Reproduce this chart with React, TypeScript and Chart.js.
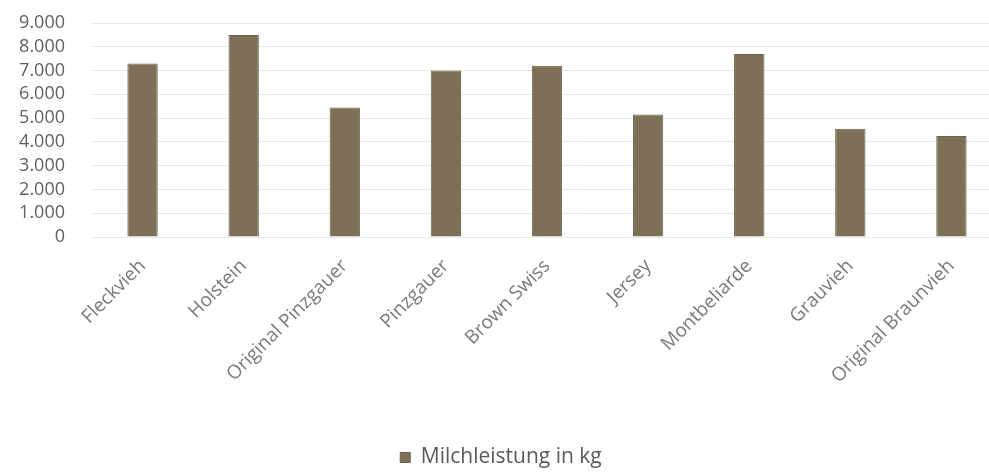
import React, { useEffect, useRef } from "react";
import { Chart, registerables } from "chart.js";

Chart.register(...registerables);

const categories = [
  "Fleckvieh",
  "Holstein",
  "Original Pinzgauer",
  "Pinzgauer",
  "Brown Swiss",
  "Jersey",
  "Montbeliarde",
  "Grauvieh",
  "Original Braunvieh",
];
const milkValues = [7300, 8500, 5450, 7000, 7200, 5150, 7700, 4550, 4250];
const seriesLabel = "Milchleistung in kg";
const yMin = 0;
const yMax = 9000;
const yStep = 1000;

function formatDe(v: number): string {
  const s = Math.round(v).toString();
  return s.replace(/\B(?=(\d{3})+(?!\d))/g, ".");
}

export default function App() {
  const ref = useRef<HTMLCanvasElement | null>(null);
  useEffect(() => {
    if (!ref.current) return;
    const chart = new Chart(ref.current, {
      type: "bar",
      data: {
        labels: categories,
        datasets: [
          {
            label: seriesLabel,
            data: milkValues,
            backgroundColor: "#7e7057",
            borderColor: "#686349",
            borderWidth: 1,
            categoryPercentage: 1,
            barPercentage: 0.3,
          },
        ],
      },
      options: {
        animation: false,
        responsive: false,
        maintainAspectRatio: false,
        layout: { padding: { top: 23, right: 0, bottom: 0, left: 0 } },
        plugins: {
          legend: {
            position: "bottom",
            labels: {
              boxWidth: 10,
              boxHeight: 10,
              color: "#595959",
              font: { family: "Open Sans", size: 21 },
              padding: 3,
            },
          },
          tooltip: { enabled: false },
        },
        scales: {
          x: {
            grid: { display: false, drawTicks: false },
            border: { display: false },
            ticks: {
              autoSkip: false,
              color: "#7a7a7a",
              font: { family: "Open Sans", size: 19 },
              minRotation: 45,
              maxRotation: 45,
              padding: 18,
            },
            afterFit: (scale: any) => {
              scale.height = 207;
              scale.paddingTop = 0;
              scale.paddingBottom = 0;
              scale.paddingLeft = 0;
              scale.paddingRight = 0;
            },
          },
          y: {
            min: yMin,
            max: yMax,
            grid: { color: "#e8e8e8", drawTicks: false },
            border: { display: false },
            ticks: {
              autoSkip: false,
              stepSize: yStep,
              color: "#5f5f5f",
              font: { family: "Open Sans", size: 18 },
              padding: 27,
              callback: (v: any) => formatDe(Number(v)),
            },
            afterFit: (scale: any) => {
              scale.width = 92;
              scale.paddingTop = 0;
              scale.paddingBottom = 0;
              scale.paddingLeft = 0;
              scale.paddingRight = 0;
            },
          },
        },
      },
    });
    return () => chart.destroy();
  }, []);
  return (
    <div
      style={{
        position: "absolute",
        left: 0,
        top: 0,
        width: 989,
        height: 472,
        overflow: "hidden",
        background: "#ffffff",
      }}
    >
      <canvas ref={ref} width={1002} height={478} style={{ display: "block" }} />
    </div>
  );
}
